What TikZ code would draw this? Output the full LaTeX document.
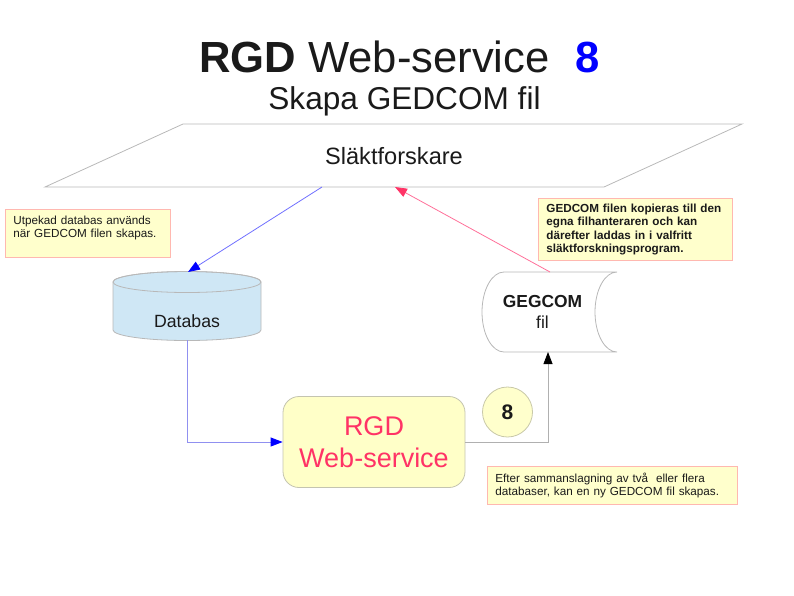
\documentclass[tikz,border=0pt]{standalone}
\usepackage{fontspec}
\setmainfont{Liberation Sans}
\usetikzlibrary{arrows.meta}
\definecolor{txt}{HTML}{1A1A1A}
\definecolor{notefill}{HTML}{FFFFCC}
\definecolor{notebd}{HTML}{FFB8B0}
\definecolor{boxfill}{HTML}{FFFFC8}
\definecolor{boxbd}{HTML}{C4C4B0}
\definecolor{circbd}{HTML}{C8C8A8}
\definecolor{frame}{HTML}{B8B8B8}
\definecolor{dbfill}{HTML}{CFE7F5}
\definecolor{rgdred}{HTML}{FF3366}
\definecolor{blueln}{HTML}{7070FF}
\definecolor{dbln}{HTML}{9090F0}
\definecolor{pinkln}{HTML}{FF7099}
\definecolor{pinkhead}{HTML}{FF3366}
\definecolor{grayln}{HTML}{B0B0B0}
\begin{document}
\begin{tikzpicture}[x=1pt,y=-1pt,
  every node/.style={text=txt},
  note/.style={draw=notebd, fill=notefill, line width=0.8pt, anchor=north west,
    align=left, inner xsep=8pt, inner ysep=0pt},
  notefont/.style={font=\fontsize{11.7}{13.3}\selectfont},
  frameline/.style={draw=frame, line width=0.8pt},
  conn/.style={line width=0.8pt},
  tipblue/.style={-{Triangle[length=12pt,width=9pt,color=blue]}},
  tippink/.style={-{Triangle[length=12pt,width=9pt,color=pinkhead]}},
  tipblack/.style={-{Triangle[length=12pt,width=9pt,color=black]}}]
\useasboundingbox (0,0) rectangle (794,595);

% title
\node[anchor=base west, font=\fontsize{43.6}{50}\selectfont, inner sep=0pt] (title) at (199,72) {\textbf{RGD} Web-service};
\node[anchor=base, font=\fontsize{43.6}{50}\selectfont\bfseries, text=blue, inner sep=0pt] (num) at (588,72) {8};
\node[anchor=base, font=\fontsize{31.6}{36}\selectfont, inner sep=0pt] (sub) at (404.5,109) {Skapa GEDCOM fil};

% parallelogram
\draw[frameline] (183,124) -- (742,124) -- (604,187) -- (45,187) -- cycle;
\node[anchor=base, font=\fontsize{23.6}{28}\selectfont, inner sep=0pt] (sl) at (394,164) {Släktforskare};
\coordinate (slA) at (322,187);
\coordinate (slB) at (395,187);

% notes
\node[note, notefont, minimum width=165pt, minimum height=48pt, text width=149pt] (n1) at (5,209)
  {Utpekad databas används\\när GEDCOM filen skapas.\\\mbox{}};
\node[note, font=\fontsize{11.7}{13.3}\selectfont\bfseries, minimum width=194pt, minimum height=62pt, text width=178pt] (n2) at (538,198)
  {GEDCOM filen kopieras till den\\egna filhanteraren och kan\\därefter laddas in i valfritt\\släktforskningsprogram.};
\node[note, notefont, minimum width=250pt, minimum height=38pt, text width=234pt] (n3) at (487,466)
  {Efter sammanslagning av två~ eller flera\\databaser, kan en ny GEDCOM fil skapas.};

% database cylinder
\path[fill=dbfill, draw=frame, line width=0.8pt] (113,282) -- (113,330)
  arc[start angle=180, end angle=360, x radius=74pt, y radius=10.5pt]
  -- (261,282) arc[start angle=0, end angle=180, x radius=74pt, y radius=10.5pt] -- cycle;
\draw[frameline] (187,282) ellipse [x radius=74pt, y radius=10.5pt];
\node[anchor=base, font=\fontsize{17.7}{20}\selectfont, inner sep=0pt] (db) at (187,327) {Databas};
\coordinate (dbT) at (188,272);
\coordinate (dbB) at (187,340);

% GEGCOM file shape
\draw[frameline, fill=white] (504,272) -- (617,272)
  arc[start angle=90, end angle=270, x radius=22pt, y radius=40pt]
  -- (504,352) arc[start angle=270, end angle=90, x radius=22pt, y radius=40pt] -- cycle;
\node[align=center, font=\fontsize{17.4}{20.5}\selectfont, inner sep=0pt] (geg) at (542.5,312) {\textbf{GEGCOM}\\fil};
\coordinate (gegT) at (550,272);
\coordinate (gegB) at (548,352);

% RGD box
\node[draw=boxbd, fill=boxfill, line width=0.8pt, rounded corners=16pt, minimum width=182pt, minimum height=91pt,
  align=center, text=rgdred, font=\fontsize{27}{32}\selectfont, inner sep=0pt] (rgd) at (374,442) {RGD\\Web-service};

% circle 8
\node[circle, draw=circbd, fill=notefill, line width=0.8pt, minimum size=50pt, inner sep=0pt,
  font=\fontsize{21}{24}\selectfont\bfseries] (c8) at (507.5,412) {8};

% connectors
\draw[conn, draw=blueln, tipblue] (slA) -- (dbT);
\draw[conn, draw=pinkln, tippink] (gegT) -- (slB);
\draw[conn, draw=dbln, tipblue] (dbB) |- (rgd.west);
\draw[conn, draw=grayln, tipblack] (rgd.east) -| (gegB);
\end{tikzpicture}
\end{document}
